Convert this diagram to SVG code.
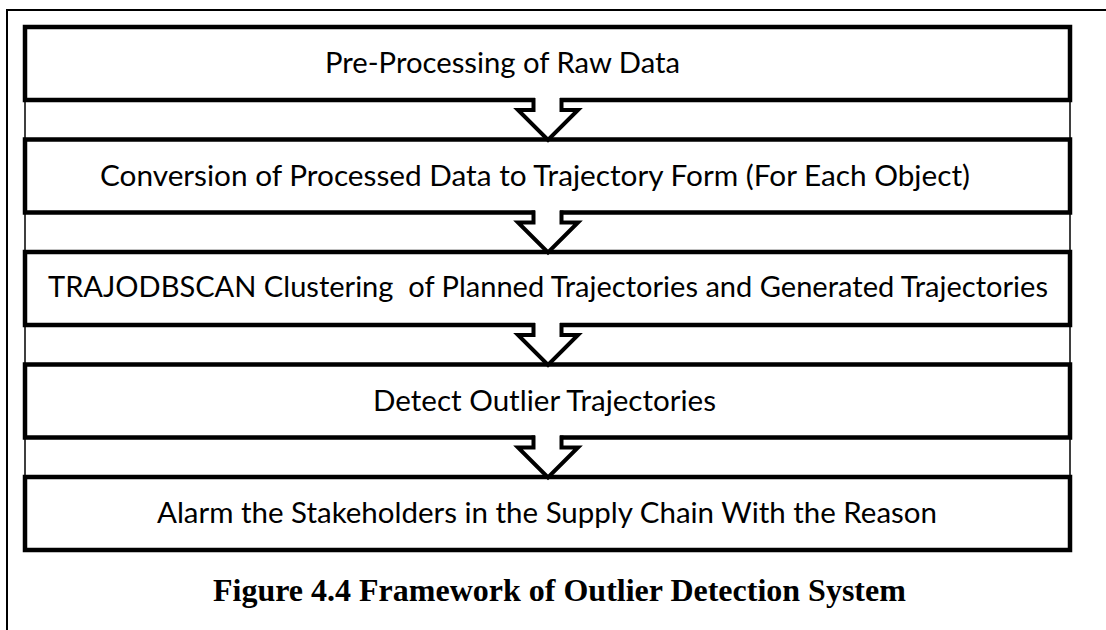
<svg xmlns="http://www.w3.org/2000/svg" width="1106" height="630" viewBox="0 0 1106 630">
<style>
.box{fill:#fff;stroke:#000;stroke-width:4.5}
.lbl{font-family:Lato,"Open Sans","Liberation Sans",sans-serif;font-size:28px;fill:#000}
.af{fill:#fff;stroke:none}
.as{fill:none;stroke:#000;stroke-width:4;stroke-linejoin:miter}
.cap{font-family:"Liberation Serif","Times New Roman",serif;font-weight:bold;font-size:32px;fill:#000}
</style>
<rect x="0" y="0" width="1106" height="630" fill="#fff"/>
<g id="frame">
<path d="M7,630 V10 H1106" fill="none" stroke="#000" stroke-width="2"/>
<rect x="25" y="27" width="1045" height="523" fill="#fff" stroke="#000" stroke-width="1.5"/>
</g>
<g id="n1"><rect class="box" x="25" y="27" width="1045" height="73"/><text class="lbl" x="325" y="73" textLength="355" lengthAdjust="spacingAndGlyphs">Pre-Processing of Raw Data</text></g>
<g id="n2"><rect class="box" x="25" y="139.5" width="1045" height="73"/><text class="lbl" x="100" y="185.5" textLength="870" lengthAdjust="spacingAndGlyphs">Conversion of Processed Data to Trajectory Form (For Each Object)</text></g>
<g id="n3"><rect class="box" x="25" y="252" width="1045" height="73"/><text class="lbl" x="48" y="297" textLength="1000" lengthAdjust="spacingAndGlyphs" xml:space="preserve">TRAJODBSCAN Clustering  of Planned Trajectories and Generated Trajectories</text></g>
<g id="n4"><rect class="box" x="25" y="364.5" width="1045" height="73"/><text class="lbl" x="373" y="410.5" textLength="343" lengthAdjust="spacingAndGlyphs">Detect Outlier Trajectories</text></g>
<g id="n5"><rect class="box" x="25" y="477" width="1045" height="73"/><text class="lbl" x="157" y="523" textLength="780" lengthAdjust="spacingAndGlyphs">Alarm the Stakeholders in the Supply Chain With the Reason</text></g>
<g id="connectors">
<path class="af" d="M535,97 H560 V110 H578 L548,140 L518,110 H535 Z"/>
<path class="as" d="M533.5,98 V110 H518 L548,140 L578,110 H561.5 V98"/>
<path class="af" d="M535,209.5 H560 V222.5 H578 L548,252.5 L518,222.5 H535 Z"/>
<path class="as" d="M533.5,210.5 V222.5 H518 L548,252.5 L578,222.5 H561.5 V210.5"/>
<path class="af" d="M535,322 H560 V335 H578 L548,365 L518,335 H535 Z"/>
<path class="as" d="M533.5,323 V335 H518 L548,365 L578,335 H561.5 V323"/>
<path class="af" d="M535,434.5 H560 V447.5 H578 L548,477.5 L518,447.5 H535 Z"/>
<path class="as" d="M533.5,435.5 V447.5 H518 L548,477.5 L578,447.5 H561.5 V435.5"/>
</g>
<text class="cap" x="213" y="601">Figure 4.4 Framework of Outlier Detection System</text>
</svg>
